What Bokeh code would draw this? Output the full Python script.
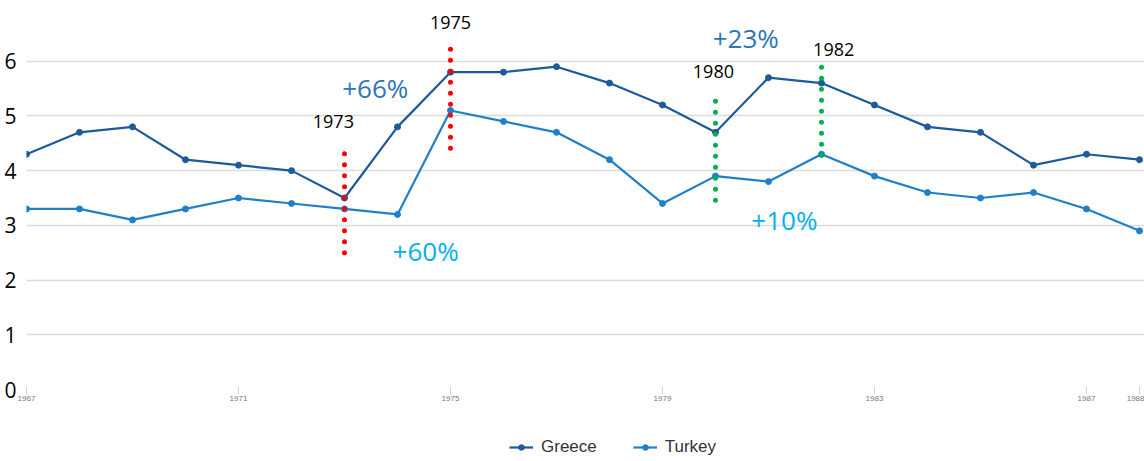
from bokeh.plotting import figure
from bokeh.layouts import column
from bokeh.models import ColumnDataSource, FixedTicker, Legend, LegendItem, Range1d
from bokeh.core.properties import value
from bokeh.embed import file_html
from bokeh.resources import INLINE

# ---- data ----
years = [1967, 1968, 1969, 1970, 1971, 1972, 1973, 1974, 1975, 1976, 1977,
         1978, 1979, 1980, 1981, 1982, 1983, 1984, 1985, 1986, 1987, 1988]
greece = [4.3, 4.7, 4.8, 4.2, 4.1, 4.0, 3.5, 4.8, 5.8, 5.8, 5.9,
          5.6, 5.2, 4.7, 5.7, 5.6, 5.2, 4.8, 4.7, 4.1, 4.3, 4.2]
turkey = [3.3, 3.3, 3.1, 3.3, 3.5, 3.4, 3.3, 3.2, 5.1, 4.9, 4.7,
          4.2, 3.4, 3.9, 3.8, 4.3, 3.9, 3.6, 3.5, 3.6, 3.3, 2.9]
series_names = ["Greece", "Turkey"]

x_tick_years = [1967, 1971, 1975, 1979, 1983, 1987, 1988]
y_tick_values = [0, 1, 2, 3, 4, 5, 6]
grid_values = [1, 2, 3, 4, 5, 6, 7]

# dotted marker lines
marker_years = [1973, 1975, 1980, 1982]
marker_top = [4.31, 6.22, 5.27, 5.89]
marker_bottom = [2.50, 4.40, 3.44, 4.09]
marker_colors = ["#ff0000", "#ff0000", "#00b050", "#00b050"]

# year annotations
year_text = ["1973", "1975", "1980", "1982"]
year_x = [1972.79, 1975.0, 1979.96, 1982.23]
year_y = [4.90, 6.70, 5.82, 6.22]

# percentage annotations
pct_text = ["+66%", "+60%", "+23%", "+10%"]
pct_x = [1973.58, 1974.53, 1980.57, 1981.30]
pct_y = [5.51, 2.54, 6.43, 3.09]
pct_colors = ["#2e75b6", "#00b0f0", "#2e75b6", "#00b0f0"]

GREECE_C = "#1c5a9a"
TURKEY_C = "#1f7fc8"

p = figure(width=1144, height=409, output_backend="svg", toolbar_location=None,
           x_range=Range1d(1967, 1988.094), y_range=Range1d(0, 7),
           min_border_left=26, min_border_right=0, min_border_top=6,
           min_border_bottom=20)
p.outline_line_color = None
p.background_fill_color = "white"
p.border_fill_color = "white"

# grids
p.xgrid.visible = False
p.ygrid.ticker = FixedTicker(ticks=grid_values)
p.ygrid.grid_line_color = "#dcdcdc"
p.ygrid.grid_line_width = 1.5

# axes
p.yaxis.ticker = FixedTicker(ticks=y_tick_values)
p.yaxis.axis_line_color = None
p.yaxis.major_tick_line_color = None
p.yaxis.minor_tick_line_color = None
p.yaxis.major_label_standoff = 4
p.yaxis.major_label_text_font = "Open Sans"
p.yaxis.major_label_text_font_size = "21px"
p.yaxis.major_label_text_color = "#000000"

p.xaxis.ticker = FixedTicker(ticks=x_tick_years)
p.xaxis.axis_line_color = None
p.xaxis.major_tick_line_color = "#ccd6eb"
p.xaxis.major_tick_in = 3
p.xaxis.major_tick_out = 5
p.xaxis.minor_tick_line_color = None
p.xaxis.major_label_standoff = 1
p.xaxis.major_label_text_font = "Liberation Sans"
p.xaxis.major_label_text_font_size = "8px"
p.xaxis.major_label_text_color = "#777777"

src = ColumnDataSource(dict(year=years, greece=greece, turkey=turkey))
p.line("year", "greece", source=src, line_color=GREECE_C, line_width=2.2)
p.scatter("year", "greece", source=src, size=6, fill_color=GREECE_C, line_color=GREECE_C)
p.line("year", "turkey", source=src, line_color=TURKEY_C, line_width=2.2)
p.scatter("year", "turkey", source=src, size=6, fill_color=TURKEY_C, line_color=TURKEY_C)

msrc = ColumnDataSource(dict(x=marker_years, top=marker_top, bottom=marker_bottom, c=marker_colors))
p.segment(x0="x", y0="top", x1="x", y1="bottom", source=msrc, line_color="c",
          line_width=5, line_cap="round", line_dash="0 11")

ysrc = ColumnDataSource(dict(x=year_x, y=year_y, t=year_text))
p.text("x", "y", text="t", source=ysrc, text_font=value("Open Sans"),
       text_font_size="18px", text_color="#000000", text_align="center",
       text_baseline="middle")

psrc = ColumnDataSource(dict(x=pct_x, y=pct_y, t=pct_text, c=pct_colors))
p.text("x", "y", text="t", source=psrc, text_font=value("Open Sans"),
       text_font_size="26px", text_color="c", text_align="center",
       text_baseline="middle")

# ---- legend strip (separate small figure below the chart) ----
# same series drawn here, but the ranges keep them out of view; only the legend shows
lg = figure(width=1144, height=52, output_backend="svg", toolbar_location=None,
            x_range=Range1d(0, 1), y_range=Range1d(0, 1),
            min_border_left=0, min_border_right=0, min_border_top=0,
            min_border_bottom=0)
lg.axis.visible = False
lg.grid.visible = False
lg.outline_line_color = None
items = []
for name, col, colr in zip(series_names, ["greece", "turkey"], [GREECE_C, TURKEY_C]):
    r1 = lg.line("year", col, source=src, line_color=colr, line_width=2.2)
    r2 = lg.scatter("year", col, source=src, size=6, fill_color=colr, line_color=colr)
    items.append(LegendItem(label=name, renderers=[r1, r2]))

legend = Legend(items=items, location=(483, 4), orientation="horizontal",
                padding=0, margin=0, spacing=36, glyph_width=24, glyph_height=14,
                label_standoff=8, label_height=14,
                label_text_font="Liberation Sans", label_text_font_size="17px",
                label_text_color="#333333", border_line_color=None,
                background_fill_alpha=0)
lg.add_layout(legend)

layout = column(p, lg, spacing=0)
open("out.html", "w").write(file_html(layout, INLINE))
